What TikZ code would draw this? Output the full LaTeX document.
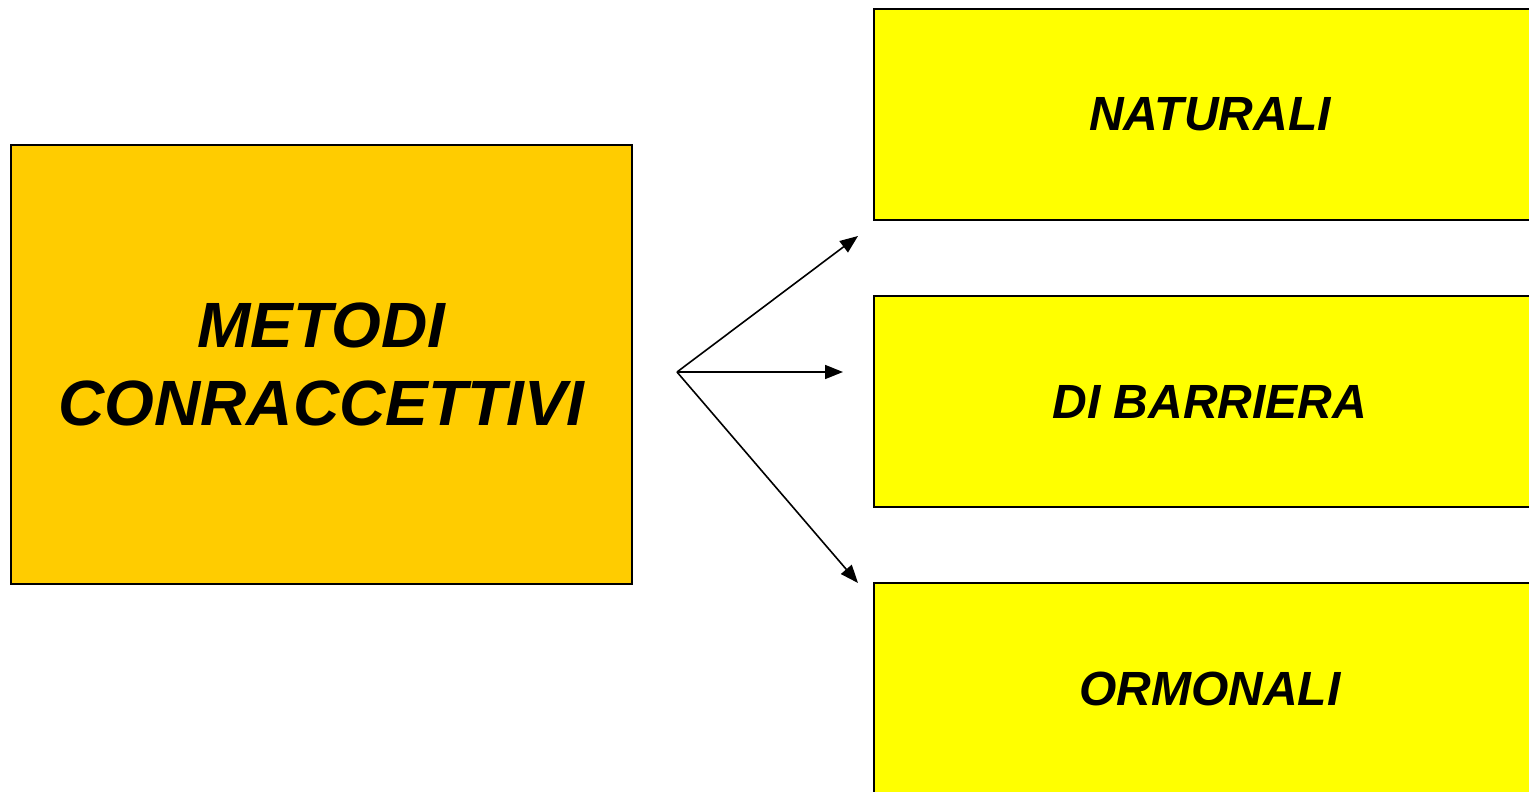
\documentclass[tikz,border=0pt]{standalone}
\usepackage{fontspec}
\setmainfont{Liberation Sans}
\usetikzlibrary{arrows.meta}
\begin{document}
\begin{tikzpicture}[x=1pt,y=-1pt,
  mainbox/.style={draw=black,line width=2pt,fill={rgb,255:red,255;green,204;blue,0},minimum width=621pt,minimum height=439pt,anchor=north west,inner sep=0pt,align=center,font=\fontsize{64}{78}\selectfont\bfseries\itshape},
  subbox/.style={draw=black,line width=2pt,fill={rgb,255:red,255;green,255;blue,0},minimum width=672pt,minimum height=211pt,anchor=north west,inner sep=0pt,font=\fontsize{48}{58}\selectfont\bfseries\itshape},
  arr/.style={line width=1.6pt,-{Triangle[length=18pt,width=14pt]}}]
\useasboundingbox (0,0) rectangle (1529,792);
\node[mainbox] (main) at (10,144) {METODI\\CONRACCETTIVI};
\node[subbox] (nat) at (873,8) {\raisebox{-2pt}{NATURALI}};
\node[subbox] (bar) at (873,295) {DI BARRIERA};
\node[subbox] (orm) at (873,582) {ORMONALI};
\coordinate (fork) at (677,372);
\coordinate (tnat) at (858,236);
\coordinate (tbar) at (843,372);
\coordinate (torm) at (858,583);
\draw[arr] (fork) -- (tnat);
\draw[arr] (fork) -- (tbar);
\draw[arr] (fork) -- (torm);
\end{tikzpicture}
\end{document}
